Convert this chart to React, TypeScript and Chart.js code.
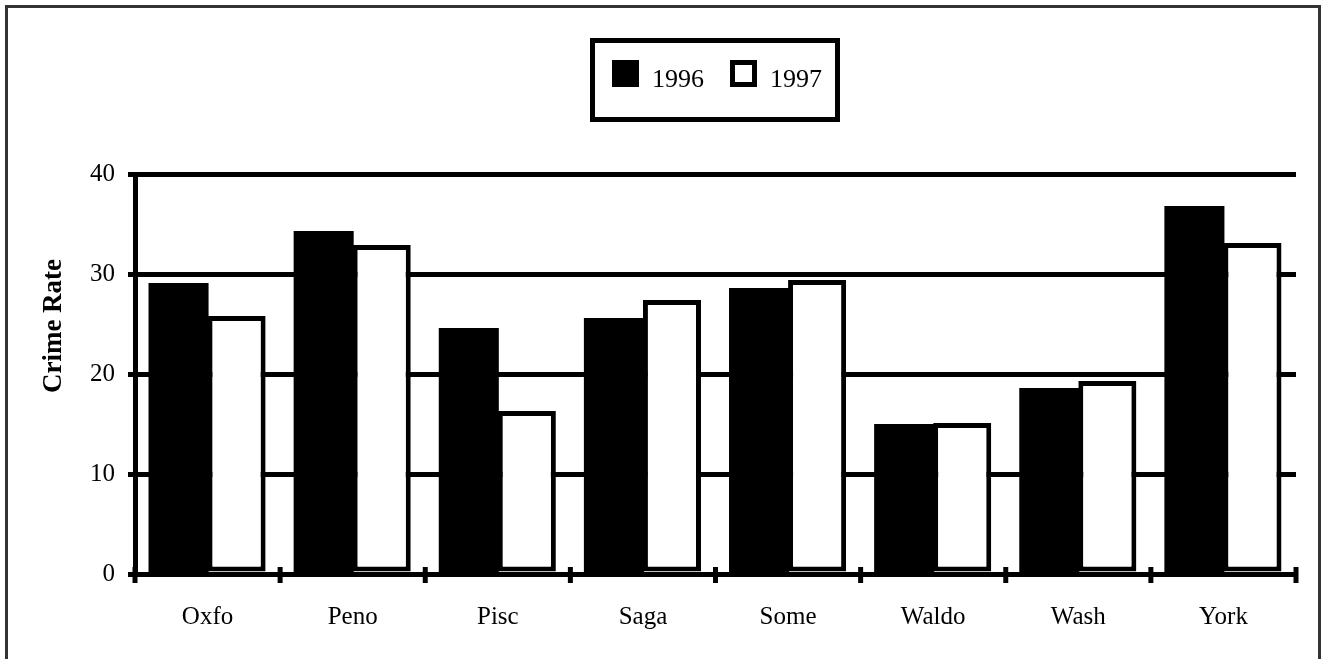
import React, { useEffect, useRef } from 'react';
import { Chart, registerables } from 'chart.js';

Chart.register(...registerables);

const categories = ['Oxfo', 'Peno', 'Pisc', 'Saga', 'Some', 'Waldo', 'Wash', 'York'];
const values1996 = [29.0, 34.2, 24.5, 25.5, 28.5, 14.9, 18.5, 36.7];
const values1997 = [25.8, 32.9, 16.3, 27.4, 29.4, 15.1, 19.3, 33.1];
const seriesLabels = ['1996', '1997'];
const yAxisTitle = 'Crime Rate';
const yMin = 0;
const yMax = 40;
const yStep = 10;

const FONT = "'Liberation Serif', 'Times New Roman', serif";

const boxLegendPlugin = {
  id: 'boxLegend',
  afterDraw(chart: any) {
    const ctx = chart.ctx;
    ctx.save();
    ctx.lineWidth = 5;
    ctx.strokeStyle = '#000';
    ctx.strokeRect(592.5, 40.5, 245, 79);
    const squareX = [612, 730];
    chart.data.datasets.forEach((ds: any, i: number) => {
      const x = squareX[i];
      const y = 60;
      const s = 27;
      ctx.fillStyle = ds.borderColor;
      ctx.fillRect(x, y, s, s);
      ctx.fillStyle = ds.backgroundColor;
      ctx.fillRect(x + 5, y + 5, s - 10, s - 10);
      ctx.fillStyle = '#000';
      ctx.font = `26px ${FONT}`;
      ctx.textAlign = 'left';
      ctx.textBaseline = 'alphabetic';
      ctx.fillText(ds.label, x + 40, y + 27);
    });
    ctx.restore();
  },
};

const axisExtrasPlugin = {
  id: 'axisExtras',
  afterDatasetsDraw(chart: any) {
    const ctx = chart.ctx;
    const xs = chart.scales.x;
    const n = chart.data.labels.length;
    const bottom = chart.chartArea.bottom;
    ctx.save();
    ctx.strokeStyle = '#000';
    ctx.lineWidth = 5;
    for (let i = 0; i <= n; i++) {
      const x = xs.left + (xs.width * i) / n;
      ctx.beginPath();
      ctx.moveTo(x, bottom - 7);
      ctx.lineTo(x, bottom + 9);
      ctx.stroke();
    }
    // y axis title
    ctx.translate(54, 326);
    ctx.rotate(-Math.PI / 2);
    ctx.font = `bold 27px ${FONT}`;
    ctx.fillStyle = '#000';
    ctx.textAlign = 'center';
    ctx.textBaseline = 'middle';
    ctx.fillText(yAxisTitle, 0, 0);
    ctx.restore();
  },
};

export default function App() {
  const canvasRef = useRef<HTMLCanvasElement | null>(null);

  useEffect(() => {
    if (!canvasRef.current) return;
    const chart = new Chart(canvasRef.current, {
      type: 'bar',
      data: {
        labels: categories,
        datasets: [
          {
            label: seriesLabels[0],
            data: values1996,
            backgroundColor: '#000',
            borderColor: '#000',
            borderWidth: 0,
            borderSkipped: false,
            inflateAmount: 1,
            categoryPercentage: 0.8,
            barPercentage: 1.0,
          },
          {
            label: seriesLabels[1],
            data: values1997,
            backgroundColor: '#fff',
            borderColor: '#000',
            borderWidth: 5,
            borderSkipped: false,
            categoryPercentage: 0.8,
            barPercentage: 1.0,
          },
        ],
      },
      options: {
        responsive: false,
        animation: false,
        layout: { padding: { left: 0, right: 29, top: 174, bottom: 0 } },
        plugins: {
          legend: { display: false },
          tooltip: { enabled: false },
        },
        scales: {
          x: {
            offset: true,
            grid: { display: false },
            border: { display: true, color: '#000', width: 5 },
            ticks: {
              color: '#000',
              font: { family: FONT, size: 25 },
              padding: 20,
              maxRotation: 0,
            },
            afterFit: (s: any) => {
              s.height = 85;
            },
          },
          y: {
            min: yMin,
            max: yMax,
            ticks: {
              stepSize: yStep,
              color: '#000',
              font: { family: FONT, size: 25 },
              padding: 13,
            },
            grid: { color: '#000', lineWidth: 5, tickLength: 7, drawTicks: true },
            border: { display: true, color: '#000', width: 5 },
            afterFit: (s: any) => {
              s.width = 135;
            },
          },
        },
      },
      plugins: [boxLegendPlugin, axisExtrasPlugin],
    } as any);
    return () => chart.destroy();
  }, []);

  return (
    <div
      style={{
        position: 'absolute',
        left: 0,
        top: 0,
        width: 1325,
        height: 659,
        overflow: 'hidden',
        background: '#fff',
      }}
    >
      <canvas ref={canvasRef} width={1325} height={659} style={{ display: 'block' }} />
      <div
        style={{
          position: 'absolute',
          left: 5,
          top: 5,
          width: 1316,
          height: 720,
          border: '3px solid #333',
          boxSizing: 'border-box',
          pointerEvents: 'none',
        }}
      />
    </div>
  );
}
